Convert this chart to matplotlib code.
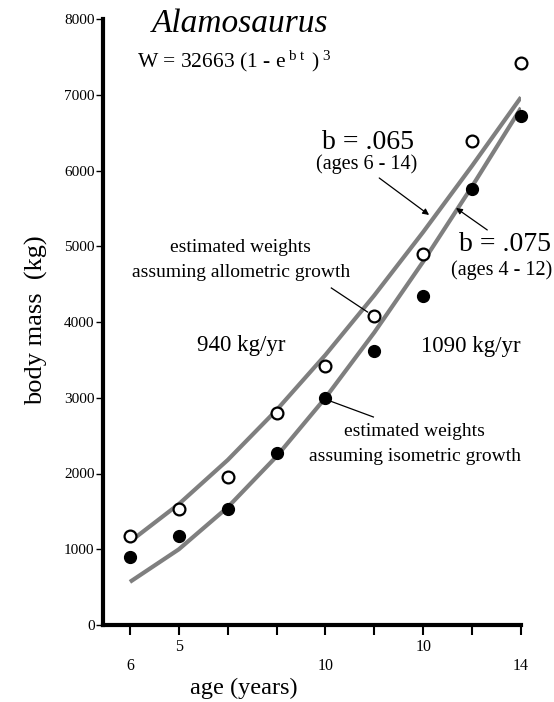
import matplotlib
matplotlib.use('Agg')
import matplotlib.pyplot as plt

# данные
ages = [6, 7, 8, 9, 10, 11, 12, 13, 14]
allometric = [1175, 1531, 1954, 2795, 3419, 4083, 4894, 6394, 7423]
isometric = [894, 1175, 1527, 2275, 2993, 3617, 4343, 5752, 6720]
curve_b065 = [1100, 1596, 2178, 2838, 3566, 4353, 5189, 6063, 6967]
curve_b075 = [569, 999, 1554, 2226, 3000, 3863, 4798, 5791, 6826]

y_ticks = [0, 1000, 2000, 3000, 4000, 5000, 6000, 7000, 8000]
upper_row = {7: '5', 12: '10'}
lower_row = {6: '6', 10: '10', 14: '14'}

plt.rcParams['font.family'] = 'Liberation Serif'
plt.rcParams['mathtext.fontset'] = 'custom'
plt.rcParams['mathtext.rm'] = 'Liberation Serif'
plt.rcParams['mathtext.it'] = 'Liberation Serif:italic'

fig = plt.figure(figsize=(5.54, 7.02), dpi=100)
ax = fig.add_axes([103 / 554, 77 / 702, 418 / 554, 606 / 702])

ax.plot(ages, curve_b065, color='#7f7f7f', lw=3, solid_capstyle='butt', zorder=2)
ax.plot(ages, curve_b075, color='#7f7f7f', lw=3, solid_capstyle='butt', zorder=2)
ax.plot(ages, allometric, 'o', ms=8.5, mfc='white', mec='black', mew=1.6,
        zorder=3, clip_on=False)
ax.plot(ages, isometric, 'o', ms=8.5, mfc='black', mec='black',
        zorder=3, clip_on=False)

ax.set_xlim(5.449, 14)
ax.set_ylim(0, 8000)
ax.spines['top'].set_visible(False)
ax.spines['right'].set_visible(False)
ax.spines['left'].set_linewidth(3)
ax.spines['bottom'].set_linewidth(3)
ax.set_yticks(y_ticks)
ax.tick_params(axis='y', direction='out', length=5, width=1, labelsize=11, pad=1)
ax.set_xticks(ages)
ax.set_xticklabels([])
ax.tick_params(axis='x', direction='out', length=7, width=1.5)

tr = ax.get_xaxis_transform()
for a, s in upper_row.items():
    ax.text(a, -0.0363, s, transform=tr, ha='center', va='center', fontsize=11.5)
for a, s in lower_row.items():
    ax.text(a, -0.068, s, transform=tr, ha='center', va='center', fontsize=11.5)

ax.set_xlabel('age (years)', fontsize=17.5)
ax.xaxis.set_label_coords(0.336, -0.104)
ax.xaxis.label.set_va('center')
ax.set_ylabel('body mass  (kg)', fontsize=19)
ax.yaxis.set_label_coords(-0.16, 0.503)
ax.yaxis.label.set_va('center')

fig.text(240 / 554, 1 - 32 / 702, 'Alamosaurus', style='italic', fontsize=24,
         ha='center', va='baseline')
fig.text(137 / 554, 1 - 67 / 702,
         r'W = 32663 (1 - e$^{\ \mathrm{b\ t}\ \ }$)$^{\ 3}$',
         fontsize=15.5, ha='left', va='baseline')

# подписи и стрелки
ax.text(10.86, 6376, 'b = .065', fontsize=20, ha='center', va='center')
ax.text(10.84, 6086, '(ages 6 - 14)', fontsize=14.5, ha='center', va='center')
ax.annotate('', xy=(12.12, 5413), xytext=(11.10, 5901),
            arrowprops=dict(arrowstyle='-|>', color='black', lw=0.9,
                            mutation_scale=9, shrinkA=0, shrinkB=0))
ax.text(13.67, 5017, 'b = .075', fontsize=20, ha='center', va='center')
ax.text(13.61, 4686, '(ages 4 - 12)', fontsize=14.5, ha='center', va='center')
ax.annotate('', xy=(12.67, 5505), xytext=(13.31, 5215),
            arrowprops=dict(arrowstyle='-|>', color='black', lw=0.9,
                            mutation_scale=9, shrinkA=0, shrinkB=0))

ax.text(8.27, 4990, 'estimated weights', fontsize=14, ha='center', va='center')
ax.text(8.27, 4660, 'assuming allometric growth', fontsize=14, ha='center', va='center')
ax.plot([10.12, 10.86], [4449, 4132], color='black', lw=0.9)

ax.text(11.82, 2548, 'estimated weights', fontsize=14, ha='center', va='center')
ax.text(11.84, 2231, 'assuming isometric growth', fontsize=14, ha='center', va='center')
ax.plot([10.04, 10.98], [2970, 2746], color='black', lw=0.9)

ax.text(8.27, 3696, '940 kg/yr', fontsize=16.5, ha='center', va='center')
ax.text(12.98, 3670, '1090 kg/yr', fontsize=16.5, ha='center', va='center')

fig.savefig('out.png', dpi=100)
